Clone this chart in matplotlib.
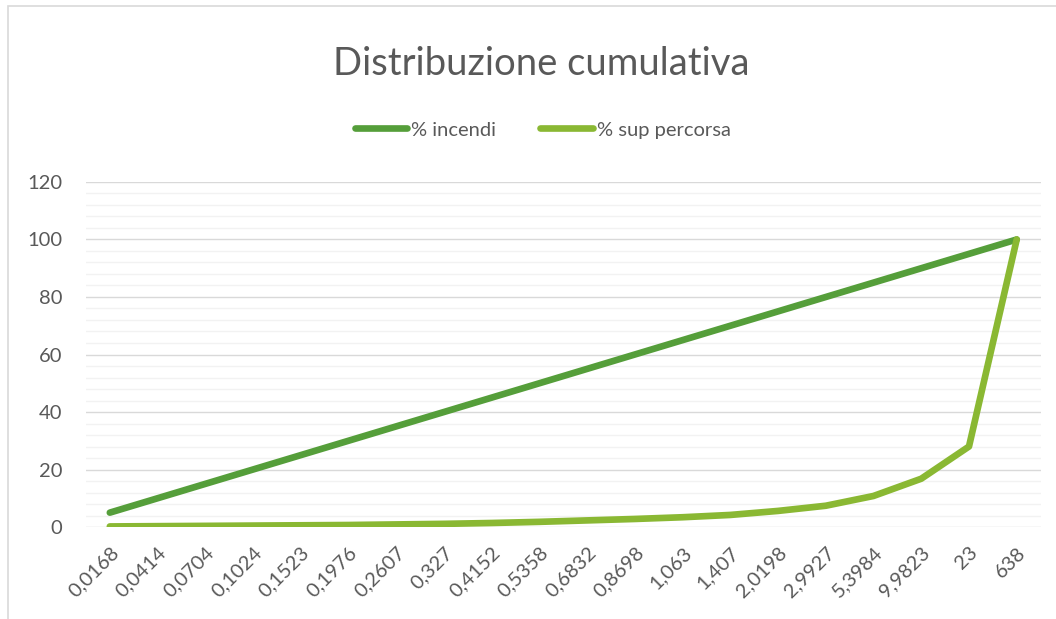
import numpy as np
import matplotlib.pyplot as plt
from matplotlib.patches import Rectangle

# categorie (asse x)
categorie = ['0,0168', '0,0414', '0,0704', '0,1024', '0,1523', '0,1976', '0,2607',
             '0,327', '0,4152', '0,5358', '0,6832', '0,8698', '1,063', '1,407',
             '2,0198', '2,9927', '5,3984', '9,9823', '23', '638']
# serie
incendi = [5, 10, 15, 20, 25, 30, 35, 40, 45, 50, 55, 60, 65, 70, 75, 80, 85, 90, 95, 100]
sup_percorsa = [0.2, 0.3, 0.4, 0.5, 0.6, 0.7, 0.9, 1.1, 1.4, 1.8, 2.3, 2.8, 3.4, 4.2,
                5.6, 7.4, 10.8, 16.8, 28, 100]

plt.rcParams['font.family'] = ['Lato', 'DejaVu Sans']
col_testo = '#595959'

fig = plt.figure(figsize=(10.56, 6.19), dpi=100)
# bordo del grafico
fig.patches.append(Rectangle((0.008, -0.01), 1.2, 1.0, transform=fig.transFigure,
                             fill=False, edgecolor='#d9d9d9', linewidth=1.2))

ax = fig.add_axes([0.0814, 0.1486, 0.904, 0.5574])
x = np.arange(len(categorie))
ax.plot(x, incendi, color='#559E3A', linewidth=4.8, solid_capstyle='round',
        solid_joinstyle='round', label='% incendi', zorder=3)
ax.plot(x, sup_percorsa, color='#8AB833', linewidth=4.8, solid_capstyle='round',
        solid_joinstyle='round', label='% sup percorsa', zorder=3)

ax.set_xlim(-0.5, len(categorie) - 0.5)
ax.set_ylim(0, 120)
ax.set_yticks(np.arange(0, 121, 20))
ax.set_yticks(np.arange(0, 121, 4), minor=True)
ax.grid(axis='y', which='major', color='#d9d9d9', linewidth=1.0, zorder=0)
ax.grid(axis='y', which='minor', color='#f2f2f2', linewidth=1.0, zorder=0)
ax.set_axisbelow(True)
for s in ax.spines.values():
    s.set_visible(False)
ax.tick_params(axis='both', which='both', length=0, colors=col_testo, labelsize=14.5)
ax.tick_params(axis='y', pad=17)
ax.set_xticks(x)
ax.set_xticklabels(categorie, rotation=45, ha='right', rotation_mode='anchor')
ax.tick_params(axis='x', pad=12)

fig.text(0.513, 0.897, 'Distribuzione cumulativa', ha='center', va='center',
         fontsize=27.5, color=col_testo)
ax.legend(loc='center', bbox_to_anchor=(0.514, 0.79), bbox_transform=fig.transFigure,
          ncol=2, frameon=False, fontsize=14.5, labelcolor=col_testo,
          handlelength=2.6, handletextpad=0.2, columnspacing=2.2)

plt.savefig('out.png', dpi=100)
